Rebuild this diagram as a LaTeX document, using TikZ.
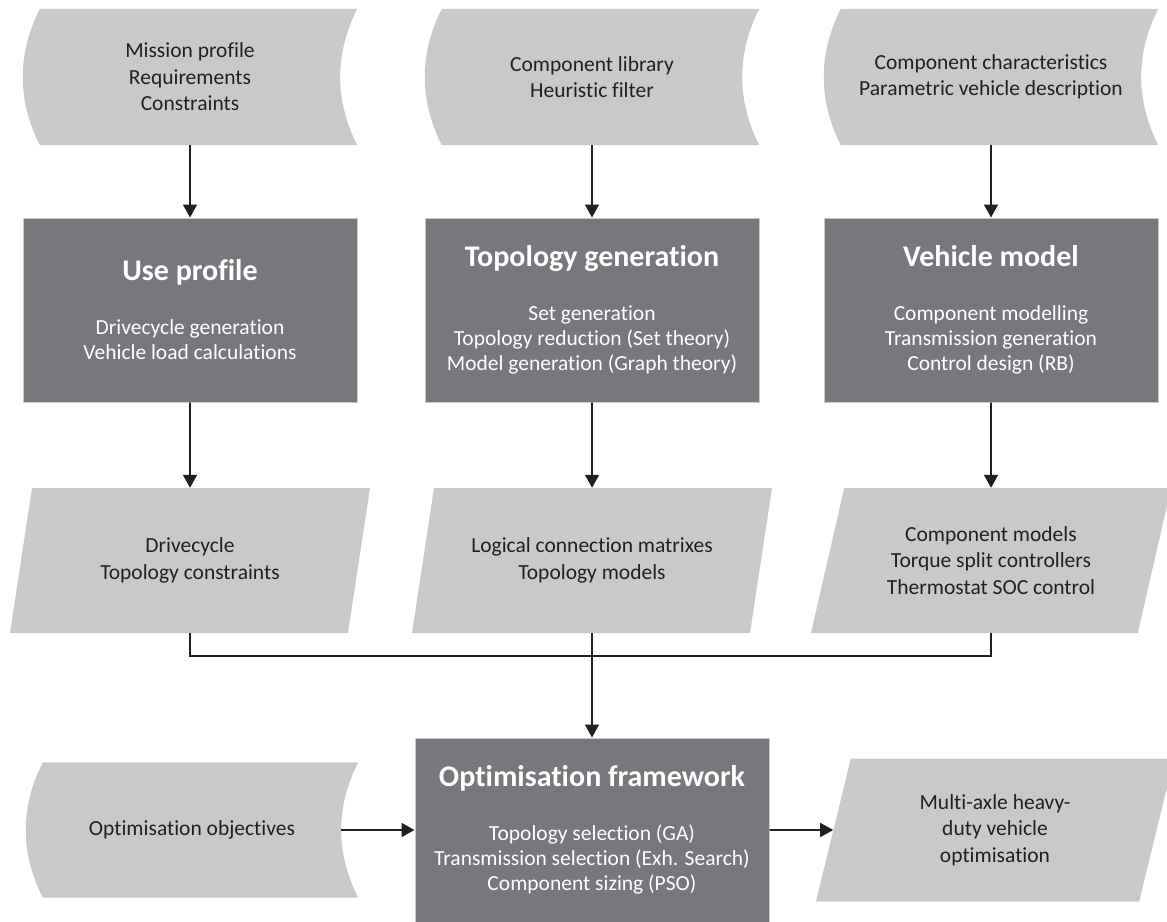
\documentclass[tikz,border=0pt]{standalone}
\usepackage{fontspec}
\setmainfont{Carlito}[Ligatures=NoCommon]
\usetikzlibrary{arrows.meta,positioning,calc,shapes.geometric,backgrounds}
\definecolor{flowlight}{HTML}{C8C9CB}
\definecolor{flowdark}{HTML}{77787B}
\definecolor{flowink}{HTML}{231F20}
\newcommand{\boxtitle}[1]{{\fontsize{30}{34}\selectfont\bfseries #1}}

\begin{document}
\begin{tikzpicture}[x=1pt,y=-1pt,
  store/.style={minimum width=334pt,minimum height=136pt,inner sep=0pt,align=center,text=flowink,font=\fontsize{21.5}{26.5}\selectfont},
  proc/.style={draw=flowlight,line width=1pt,fill=flowdark,minimum width=334pt,minimum height=184pt,align=center,text=white,font=\fontsize{21.5}{25}\selectfont},
  para/.style={trapezium,trapezium left angle=64,trapezium right angle=116,trapezium stretches body,fill=flowlight,minimum width=360pt,minimum height=145pt,inner sep=0pt,align=center,text=flowink,font=\fontsize{21.5}{26.5}\selectfont},
  arr/.style={-{Triangle[length=13pt,width=14pt]},line width=1.6pt,flowink},
  link/.style={line width=1.6pt,flowink}
]
\useasboundingbox (0,0) rectangle (1167,921);

% Inputs
\node[store] (mission) at (190,77) {Mission profile\\Requirements\\Constraints};
\node[store] (library) at (592,77) {Component library\\Heuristic filter};
\node[store] (charact) at (991,77) {Component characteristics\\Parametric vehicle description};

% Processes
\node[proc] (useprof) at (190,310) {\boxtitle{Use profile}\\[29pt]Drivecycle generation\\Vehicle load calculations};
\node[proc] (topogen) at (592,310) {\boxtitle{Topology generation}\\[29pt]Set generation\\Topology reduction (Set theory)\\Model generation (Graph theory)};
\node[proc] (vehmodel) at (991,310) {\boxtitle{Vehicle model}\\[29pt]Component modelling\\Transmission generation\\Control design (RB)};

% Outputs
\node[para] (drive) at (190,560.5) {Drivecycle\\Topology constraints};
\node[para] (matrices) at (592,560.5) {Logical connection matrixes\\Topology models};
\node[para] (models) at (991,560.5) {Component models\\Torque split controllers\\Thermostat SOC control};

% Optimisation
\node[store,minimum width=332pt,minimum height=135pt] (objective) at (192,830) {Optimisation objectives};
\node[proc,minimum width=354pt] (optim) at (592,830) {\boxtitle{Optimisation framework}\\[29pt]Topology selection (GA)\\Transmission selection (Exh. Search)\\Component sizing (PSO)};
\node[para,minimum width=358pt,minimum height=143pt] (result) at (995,830) {Multi-axle heavy-\\duty vehicle\\optimisation};

% stored data outlines
\begin{scope}[on background layer]
\foreach \n in {mission,library,charact,objective}{
  \fill[flowlight] ([xshift=17pt]\n.north west) -- (\n.north east)
    .. controls ([xshift=-22.7pt,yshift=-45pt]\n.north east) and ([xshift=-22.7pt,yshift=45pt]\n.south east) .. (\n.south east)
    -- ([xshift=17pt]\n.south west)
    .. controls ([xshift=-5.7pt,yshift=45pt]\n.south west) and ([xshift=-5.7pt,yshift=-45pt]\n.north west) .. cycle;
}
\end{scope}

\coordinate (join) at (592,656);

\draw[arr] (mission.south) -- (useprof.north);
\draw[arr] (library.south) -- (topogen.north);
\draw[arr] (charact.south) -- (vehmodel.north);
\draw[arr] (useprof.south) -- (drive.north);
\draw[arr] (topogen.south) -- (matrices.north);
\draw[arr] (vehmodel.south) -- (models.north);
\draw[link] (drive.south) |- (join) -| (models.south);
\draw[arr] (matrices.south) -- (optim.north);
\draw[arr] ([xshift=-17pt]objective.east) -- (optim.west);
\draw[arr] (optim.east) -- (result.west);
\end{tikzpicture}
\end{document}
